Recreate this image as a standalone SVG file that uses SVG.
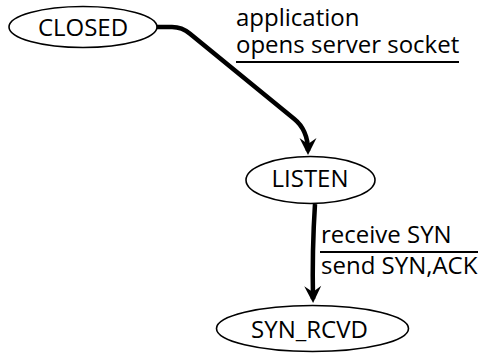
<svg xmlns="http://www.w3.org/2000/svg" width="483" height="354" viewBox="0 0 483 354">
<style>
.node ellipse{fill:#fff;stroke:#000;stroke-width:1.6}
.node text{font-family:"Open Sans","Noto Sans",sans-serif;font-size:24px;text-anchor:middle;fill:#000}
.lbl{font-family:"Open Sans","Noto Sans",sans-serif;font-size:24px;fill:#000}
.edge{fill:none;stroke:#000;stroke-width:4.5;marker-end:url(#ah)}
.bar{stroke:#000;stroke-width:2.2}
</style>
<defs>
<marker id="ah" markerUnits="userSpaceOnUse" markerWidth="24" markerHeight="24" viewBox="-20 -12 24 24" refX="-4" refY="0" orient="auto">
<path d="M0,0 L-17,-8.5 L-11,0 L-17,8.5 Z" fill="#000"/>
</marker>
</defs>
<rect width="483" height="354" fill="#fff"/>
<g id="connectors">
<path class="edge" d="M157,27 L172,27 Q182,27 190,33.8 L294,118.8 Q308,130 308,151"/>
<path class="edge" d="M315,204 Q312,250 313,299"/>
<g id="label-closed-listen">
<text class="lbl" x="236" y="26">application</text>
<text class="lbl" x="236" y="53">opens server socket</text>
<line class="bar" x1="236" y1="62" x2="459" y2="62"/>
</g>
<g id="label-listen-synrcvd">
<text class="lbl" x="321" y="243">receive SYN</text>
<line class="bar" x1="320" y1="252" x2="478" y2="252"/>
<text class="lbl" x="321" y="274">send SYN,ACK</text>
</g>
</g>
<g id="closed" class="node">
<ellipse cx="83" cy="27" rx="74" ry="20.5"/>
<text x="83" y="36">CLOSED</text>
</g>
<g id="listen" class="node">
<ellipse cx="310.5" cy="180" rx="64.5" ry="23.5"/>
<text x="310" y="187">LISTEN</text>
</g>
<g id="syn_rcvd" class="node">
<ellipse cx="312.5" cy="328.5" rx="96" ry="23"/>
<text x="309.5" y="338">SYN_RCVD</text>
</g>
</svg>
